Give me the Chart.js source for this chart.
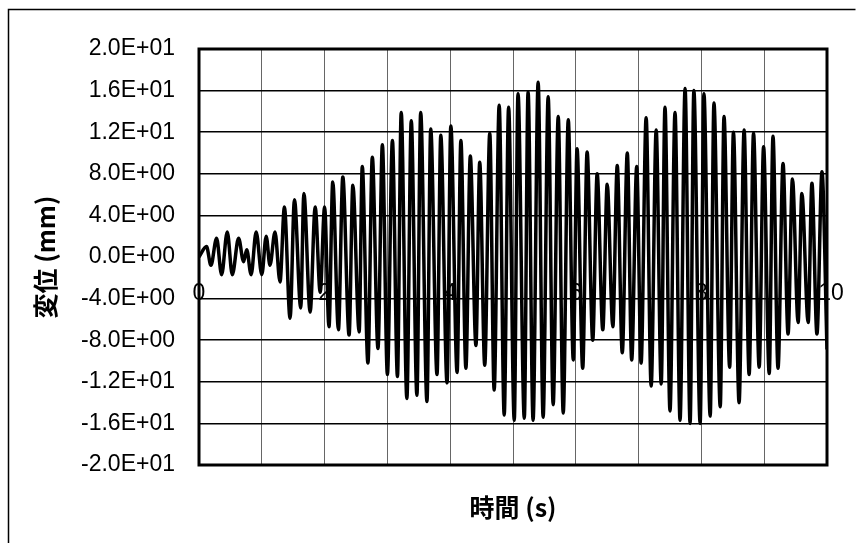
<!DOCTYPE html>
<html lang="ja">
<head>
<meta charset="UTF-8">
<title>変位 時刻歴</title>
<script src="https://cdn.jsdelivr.net/npm/chart.js@4.4.1/dist/chart.umd.min.js"></script>
<style>
  body { margin: 0; background: #fff; }
  #grafico { display: block; }
</style>
</head>
<body>
<canvas id="grafico" width="859" height="543"></canvas>
<script>
const tiempos = [0, 0.12, 0.19, 0.28, 0.36, 0.45, 0.53, 0.63, 0.71, 0.76,
  0.83, 0.91, 1.00, 1.07, 1.13, 1.21, 1.29, 1.36, 1.45, 1.52,
  1.62, 1.67, 1.77, 1.85, 1.93, 2.00, 2.07, 2.13, 2.22, 2.29,
  2.39, 2.45, 2.55, 2.60, 2.69, 2.76, 2.85, 2.92, 3.00, 3.08,
  3.16, 3.22, 3.31, 3.38, 3.47, 3.53, 3.63, 3.69, 3.79, 3.85,
  3.95, 4.01, 4.11, 4.17, 4.25, 4.32, 4.41, 4.47, 4.55, 4.63,
  4.70, 4.78, 4.86, 4.93, 5.02, 5.08, 5.18, 5.24, 5.32, 5.40,
  5.48, 5.56, 5.64, 5.72, 5.80, 5.88, 5.96, 6.02, 6.11, 6.18,
  6.27, 6.34, 6.43, 6.50, 6.59, 6.66, 6.74, 6.82, 6.89, 6.97,
  7.04, 7.12, 7.20, 7.28, 7.36, 7.42, 7.50, 7.58, 7.66, 7.74,
  7.82, 7.88, 7.98, 8.04, 8.14, 8.20, 8.30, 8.36, 8.45, 8.51,
  8.60, 8.68, 8.76, 8.83, 8.92, 8.99, 9.08, 9.14, 9.22, 9.30,
  9.38, 9.45, 9.54, 9.60, 9.70, 9.76, 9.84, 9.92, 10.00];
const desplazamientos = [0, 1.0, -0.8, 1.8, -1.7, 2.4, -1.7, 1.8, -0.45, 0.7,
  -1.7, 2.4, -1.7, 2.0, -0.8, 2.4, -2.4, 4.8, -5.9, 5.5,
  -4.9, 6.1, -5.3, 4.8, -3.4, 4.8, -6.7, 7.2, -7.0, 7.7,
  -7.5, 6.9, -7.2, 8.7, -10.2, 9.6, -8.8, 10.8, -11.3, 11.2,
  -11.5, 13.9, -13.6, 13.1, -13.3, 13.9, -13.9, 12.3, -11.3, 11.7,
  -12.1, 12.6, -11.1, 11.2, -10.7, 9.7, -8.5, 9.1, -10.4, 11.9,
  -12.8, 14.6, -15.2, 14.4, -15.7, 15.7, -15.5, 15.9, -15.7, 16.8,
  -15.4, 15.4, -14.2, 13.5, -15.0, 13.2, -9.9, 10.4, -10.7, 10.1,
  -8.0, 8.0, -7.0, 7.0, -6.7, 8.8, -9.2, 10.0, -9.9, 8.7,
  -10.2, 13.4, -12.4, 12.2, -12.2, 14.4, -14.8, 13.9, -15.7, 16.2,
  -16.0, 16.0, -16.0, 15.7, -15.3, 14.8, -14.4, 13.5, -10.6, 12.0,
  -14.0, 12.2, -11.3, 11.9, -10.6, 10.6, -11.2, 11.6, -10.7, 9.0,
  -7.4, 7.5, -6.3, 6.1, -6.3, 7.1, -7.4, 8.2, -8.9];
const valoresY = [20, 16, 12, 8, 4, 0, -4, -8, -12, -16, -20];
const etiquetasY = ["2.0E+01", "1.6E+01", "1.2E+01", "8.0E+00", "4.0E+00", "0.0E+00",
  "-4.0E+00", "-8.0E+00", "-1.2E+01", "-1.6E+01", "-2.0E+01"];
const valoresX = [0, 2, 4, 6, 8, 10];
const etiquetasX = ["0", "2", "4", "6", "8", "10"];

const fuenteNum = "'Liberation Sans', Arial, sans-serif";
const fuenteJp = "'Noto Sans CJK JP', sans-serif";

// marco exterior, marco del grafico y etiquetas del eje X
const marcos = {
  id: "marcos",
  afterDraw(chart) {
    const { ctx, chartArea, scales } = chart;
    ctx.save();
    ctx.strokeStyle = "#000";
    ctx.lineWidth = 1.5;
    ctx.beginPath();
    ctx.moveTo(8.5, 543);
    ctx.lineTo(8.5, 9.5);
    ctx.lineTo(855.5, 9.5);
    ctx.stroke();
    ctx.lineWidth = 3;
    ctx.strokeRect(chartArea.left, chartArea.top, chartArea.right - chartArea.left, chartArea.bottom - chartArea.top);
    ctx.fillStyle = "#000";
    ctx.font = "23px " + fuenteNum;
    ctx.textAlign = "center";
    ctx.textBaseline = "middle";
    const yEtiqueta = scales.y.getPixelForValue(-4) - 5;
    valoresX.forEach((v, i) => {
      ctx.fillText(etiquetasX[i], scales.x.getPixelForValue(v) + (v === 10 ? 4 : 0), yEtiqueta);
    });
    ctx.restore();
  }
};

const datos = tiempos.map((t, i) => ({ x: t, y: desplazamientos[i] }));

new Chart(document.querySelector("#grafico"), {
  type: "line",
  data: {
    datasets: [{
      data: datos,
      borderColor: "#000",
      borderWidth: 3.5,
      pointRadius: 0,
      fill: false,
      cubicInterpolationMode: "monotone"
    }]
  },
  options: {
    responsive: false,
    animation: false,
    devicePixelRatio: 1,
    layout: { padding: { top: 49, right: 32, left: 0, bottom: 0 } },
    plugins: { legend: { display: false }, tooltip: { enabled: false } },
    scales: {
      x: {
        type: "linear",
        min: 0,
        max: 10,
        ticks: { display: false, stepSize: 1 },
        grid: { color: "#666", lineWidth: 1, drawTicks: false },
        border: { display: false },
        title: {
          display: true,
          text: "時間 (s)",
          color: "#000",
          font: { family: fuenteJp, size: 25, weight: "bold" },
          padding: { top: 0, bottom: 21 }
        },
        afterFit: (escala) => { escala.height = 78; }
      },
      y: {
        min: -20,
        max: 20,
        ticks: {
          stepSize: 4,
          color: "#000",
          padding: 24,
          font: { family: fuenteNum, size: 23 },
          callback: (valor) => etiquetasY[valoresY.indexOf(valor)]
        },
        grid: {
          color: (c) => (c.tick && c.tick.value === 0 ? "rgba(0,0,0,0)" : "#000"),
          lineWidth: 1.5,
          drawTicks: false
        },
        border: { display: false },
        title: {
          display: true,
          text: "変位 (mm)",
          color: "#000",
          font: { family: fuenteJp, size: 25, weight: "bold" },
          padding: { top: 30, bottom: 0 }
        },
        afterFit: (escala) => { escala.width = 199; }
      }
    }
  },
  plugins: [marcos]
});
</script>
</body>
</html>
